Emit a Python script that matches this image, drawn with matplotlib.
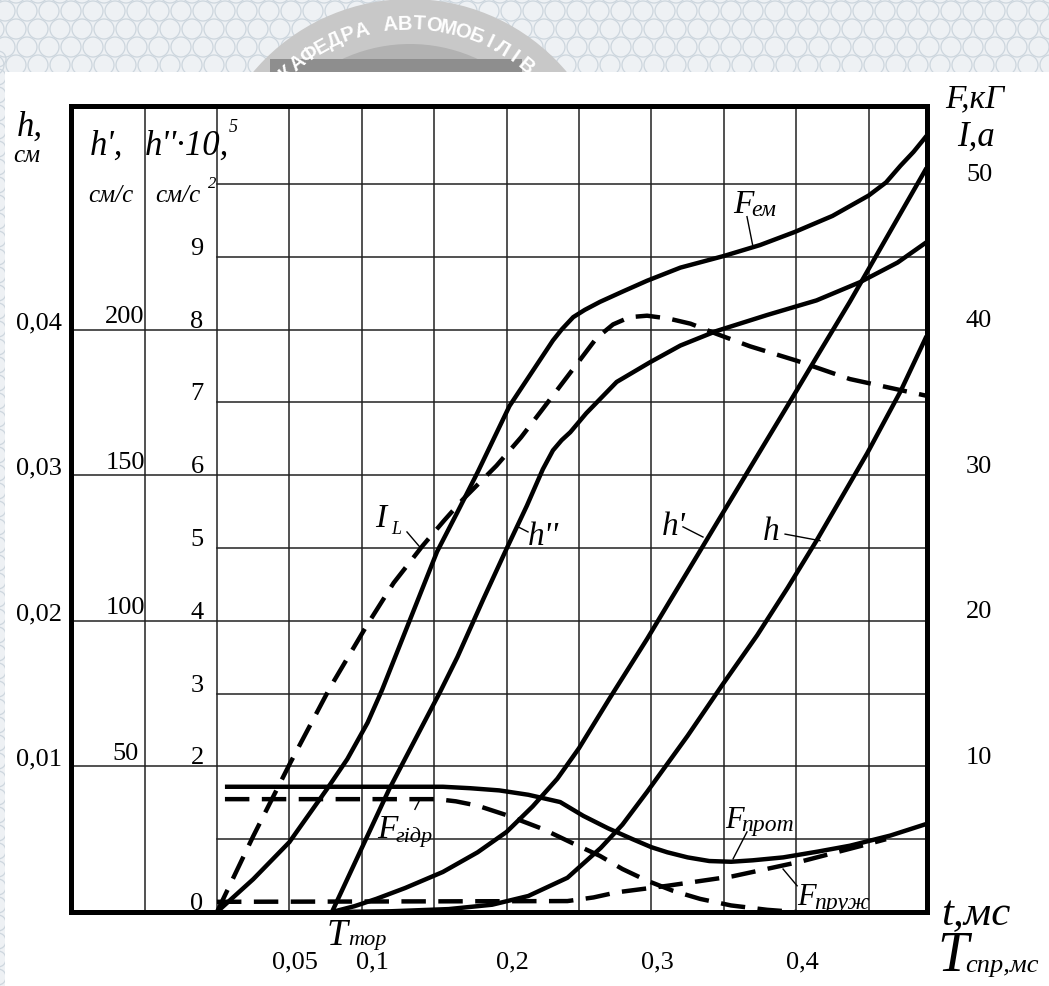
import numpy as np
import matplotlib
matplotlib.use("Agg")
import matplotlib.pyplot as plt
from matplotlib import transforms
from matplotlib.patches import Rectangle, Circle

W, H, DPI = 1049, 987, 100

# ---------------- data ----------------
# time axis t, ms
t_Fem = [0.0, 0.025, 0.050, 0.076, 0.090, 0.104, 0.114, 0.124, 0.138, 0.152, 0.166, 0.180,
         0.202, 0.225, 0.232, 0.238, 0.246, 0.254, 0.2645, 0.280, 0.297, 0.320, 0.350,
         0.375, 0.399, 0.425, 0.450, 0.462, 0.472, 0.481, 0.490]
F_em = [0.0, 2.25, 4.8, 8.45, 10.5, 13.0, 15.25, 17.75, 21.25, 24.75, 27.45, 30.2,
        34.75, 38.2, 39.25, 40.0, 40.85, 41.35, 41.9, 42.6, 43.35, 44.25, 45.05,
        45.8, 46.7, 47.8, 49.2, 50.1, 51.25, 52.2, 53.3]                         # kG

t_IL = [0.0, 0.025, 0.0504, 0.078, 0.1036, 0.122, 0.142, 0.157, 0.170, 0.193, 0.210,
        0.225, 0.246, 0.262, 0.2735, 0.285, 0.297, 0.312, 0.327, 0.345, 0.368, 0.4006,
        0.437, 0.490]
I_L = [0.0, 5.2, 10.2, 15.4, 19.7, 22.6, 25.15, 26.9, 28.35, 30.65, 32.6,
       34.55, 37.3, 39.4, 40.35, 40.85, 40.95, 40.75, 40.4, 39.7, 38.85, 37.85,
       36.6, 35.45]                                                              # A

t_h2 = [0.0794, 0.119, 0.154, 0.166, 0.184, 0.200, 0.214, 0.225, 0.232, 0.238, 0.244,
        0.255, 0.276, 0.299, 0.320, 0.345, 0.380, 0.414, 0.444, 0.470, 0.490]
h2 = [0.0, 1.69, 3.02, 3.50, 4.30, 4.99, 5.58, 6.08, 6.34, 6.48, 6.59,
      6.85, 7.28, 7.55, 7.78, 7.98, 8.20, 8.40, 8.65, 8.92, 9.20]               # 1e5 cm/s^2

t_h1 = [0.0794, 0.095, 0.110, 0.130, 0.156, 0.180, 0.200, 0.218, 0.235, 0.250, 0.271,
        0.297, 0.313, 0.3336, 0.349, 0.396, 0.414, 0.437, 0.490]
h1 = [0.0, 2.0, 4.5, 8.25, 13.75, 20.5, 27.5, 36.25, 45.75, 56.25, 73.25,
      93.75, 107.0, 124.0, 136.75, 175.5, 190.5, 209.5, 255.5]                  # cm/s

t_h0 = [0.0794, 0.120, 0.160, 0.190, 0.215, 0.242, 0.265, 0.280, 0.297, 0.325, 0.349,
        0.373, 0.394, 0.414, 0.449, 0.472, 0.490]
h0 = [0.0, 0.00005, 0.0002, 0.0005, 0.0011, 0.00235, 0.0044, 0.006, 0.00825, 0.0121,
      0.0156, 0.019, 0.02225, 0.0255, 0.0315, 0.03575, 0.03955]                 # cm

t_Fprot = [0.0055, 0.156, 0.175, 0.195, 0.215, 0.237, 0.253, 0.270, 0.287, 0.300, 0.311,
           0.325, 0.340, 0.355, 0.370, 0.391, 0.415, 0.437, 0.465, 0.490]
F_prot = [8.6, 8.6, 8.5, 8.35, 8.05, 7.55, 6.6, 5.75, 5.0, 4.45, 4.1,
          3.75, 3.5, 3.45, 3.55, 3.75, 4.15, 4.55, 5.25, 6.05]                  # kG

t_Fgidr = [0.0055, 0.152, 0.165, 0.180, 0.200, 0.225, 0.245, 0.2645, 0.280, 0.297, 0.315,
           0.3336, 0.355, 0.380, 0.400]
F_gidr = [7.75, 7.75, 7.6, 7.3, 6.65, 5.7, 4.75, 3.85, 2.95, 2.15, 1.45,
          0.9, 0.45, 0.15, 0.0]                                                 # kG

t_Fpruzh = [0.0, 0.242, 0.260, 0.276, 0.311, 0.356, 0.4026, 0.449, 0.462]
F_pruzh = [0.7, 0.75, 1.0, 1.35, 1.8, 2.45, 3.45, 4.65, 5.0]                    # kG

# scales (value of one grid row on each scale)
step_h2 = 1.0       # 1e5 cm/s^2
step_h1 = 25.0      # cm/s
step_h0 = 0.005     # cm
step_F = 5.0        # kG / A

h0_ticks = ["0,01", "0,02", "0,03", "0,04"]
h1_ticks = ["50", "100", "150", "200"]
h2_ticks = ["0", "2", "3", "4", "5", "6", "7", "8", "9"]
F_ticks = ["10", "20", "30", "40", "50"]
t_ticks = [0.05, 0.1, 0.2, 0.3, 0.4]
t_tick_labels = ["0,05", "0,1", "0,2", "0,3", "0,4"]

# ---------------- figure ----------------
plt.rcParams['font.family'] = ['Liberation Serif', 'DejaVu Serif']
fig = plt.figure(figsize=(W / DPI, H / DPI), dpi=DPI)
fig.patch.set_facecolor('#eef1f4')


def fx(px):
    return px / W


def fy(py):
    return 1 - py / H


# decorative background pattern + logo
bg = fig.add_axes([0, 0, 1, 1], zorder=-5)
bg.set_xlim(0, W)
bg.set_ylim(H, 0)
bg.axis('off')
for j, yy in enumerate(np.arange(-6, 80, 18)):
    for xx in np.arange(-6, W + 20, 22):
        bg.add_patch(Circle((xx + (11 if j % 2 else 0), yy), 10, fill=False,
                            ec='#cdd6de', lw=0.9))
for yy in np.arange(60, H + 20, 18):
    bg.add_patch(Circle((-2, yy), 8, fill=False, ec='#cdd6de', lw=0.9))
cx, cy = 410, 205
bg.add_patch(Circle((cx, cy), 205, fc='#c8c8c8', ec='none'))
bg.add_patch(Circle((cx, cy), 160, fc='#b2b2b2', ec='none'))
bg.add_patch(Rectangle((270, 60), 252, 14, fc='#8e8e8e', ec='none'))
logo_txt = "КАФЕДРА АВТОМОБІЛІВ ТА ТРАКТОРІВ"
for i, ch in enumerate(logo_txt):
    a = np.deg2rad(133.0 - i * 4.6)
    x = cx + 181 * np.cos(a)
    y = cy - 181 * np.sin(a)
    bg.text(x, y, ch, rotation=np.rad2deg(a) - 90, ha='center', va='center',
            fontsize=14.5, color='white', fontweight='bold', family='Liberation Sans')
bg.add_patch(Rectangle((5, 73), W, H, fc='white', ec='none'))

ax = fig.add_axes([fx(71), 1 - 913 / H, (927 - 71) / W, (913 - 107) / H])
ax.set_xlim(-0.1008, 0.4903)
ax.set_ylim(0, 11.07)
ax.set_xticks([])
ax.set_yticks([])
for s in ax.spines.values():
    s.set_linewidth(3.6)
    s.set_color('black')

grid_kw = dict(color='#222222', lw=1.1, zorder=1)
for k in range(-1, 10):
    ax.axvline(k * 0.05, **grid_kw)
for k in range(1, 11):
    if k % 2 == 0 and k <= 8:
        ax.axhline(k, **grid_kw)
    else:
        ax.plot([0, 0.4903], [k, k], **grid_kw)

lw = 3.2
dash = (0, (5.5, 2.8))
sk = dict(color='black', lw=lw, solid_joinstyle='round', solid_capstyle='butt', zorder=3)
dk = dict(color='black', lw=lw, ls=dash, dash_capstyle='butt', zorder=3)
ax.plot(t_Fem, np.array(F_em) / step_F, **sk)
ax.plot(t_IL, np.array(I_L) / step_F, **dk)
ax.plot(t_h2, np.array(h2) / step_h2, **sk)
ax.plot(t_h1, np.array(h1) / step_h1, **sk)
ax.plot(t_h0, np.array(h0) / step_h0, **sk)
ax.plot(t_Fprot, np.array(F_prot) / step_F, **sk)
ax.plot(t_Fgidr, np.array(F_gidr) / step_F, **dk)
ax.plot(t_Fpruzh, np.array(F_pruzh) / step_F, **dk)

# ---------------- scale labels ----------------
tr_fy = transforms.blended_transform_factory(fig.transFigure, ax.transData)
tr_xf = transforms.blended_transform_factory(ax.transData, fig.transFigure)
tick_fs = 19
for i, lab in enumerate(h0_ticks):
    ax.text(fx(39), (i + 1) * 0.01 / step_h0 + 0.02, lab, transform=tr_fy, ha='center',
            va='baseline', fontsize=tick_fs, clip_on=False)
for i, lab in enumerate(h1_ticks):
    ax.text(fx(125), (i + 1) * 50 / step_h1 + 0.1, lab, transform=tr_fy, ha='center',
            va='baseline', fontsize=tick_fs, clip_on=False)
for lab in h2_ticks:
    ax.text(fx(197), float(lab) / step_h2 + 0.04, lab, transform=tr_fy, ha='center',
            va='baseline', fontsize=tick_fs, clip_on=False)
for i, lab in enumerate(F_ticks):
    ax.text(fx(979), (i + 1) * 10 / step_F + 0.05, lab, transform=tr_fy, ha='center',
            va='baseline', fontsize=tick_fs, clip_on=False)
for tv, lab in zip(t_ticks, t_tick_labels):
    shift = 0.0075 if lab == "0,1" else 0.004
    ax.text(tv + shift, fy(968), lab, transform=tr_xf, ha='center', va='baseline',
            fontsize=tick_fs, clip_on=False)


def ptext(px, py, s, size, **kw):
    fig.text(fx(px), fy(py), s, fontsize=size, style='italic', va='baseline', **kw)


ptext(17, 136, "h,", 25)
ptext(13, 162, "см", 18)
ptext(90, 155, "h',", 25)
ptext(145, 155, "h''·10,", 25)
ptext(229, 132, "5", 13)
ptext(88, 202, "см/с", 18)
ptext(155, 202, "см/с", 18)
ptext(208, 188, "2", 12)
ptext(945, 107, "F,кГ", 24)
ptext(957, 146, "I,а", 25)
ptext(941, 925, "t,мс", 31)
ptext(937, 971, "T", 40)
ptext(965, 972, "спр,мс", 19)

# ---------------- curve labels ----------------
lab_fs = 24
sub_fs = 16


def clabel(t, y, main, sub=None, sub_dx=0.0, sub_dy=-0.05, size=lab_fs, ssize=sub_fs):
    ax.text(t, y, main, fontsize=size, style='italic', va='baseline', ha='left', zorder=5,
            clip_on=False)
    if sub:
        ax.text(t + sub_dx, y + sub_dy, sub, fontsize=ssize, style='italic', va='baseline',
                ha='left', zorder=5, clip_on=False)


def leader(t0, y0, t1, y1):
    ax.plot([t0, t1], [y0, y1], color='black', lw=1.0, zorder=4, clip_on=False)


clabel(0.109, 5.30, "I", "L", sub_dx=0.0115, sub_dy=-0.10, ssize=13)
leader(0.1312, 5.22, 0.1402, 5.01)
clabel(0.2148, 5.05, "h''")
leader(0.2079, 5.29, 0.2148, 5.22)
clabel(0.3073, 5.19, "h'")
leader(0.3218, 5.29, 0.3356, 5.15)
clabel(0.3771, 5.12, "h")
leader(0.3923, 5.19, 0.4164, 5.10)
clabel(0.3564, 9.62, "F", "ем", sub_dx=0.0125, ssize=17)
leader(0.366, 9.55, 0.370, 9.15)
clabel(0.1105, 1.03, "F", "гідр", sub_dx=0.0125)
leader(0.1367, 1.41, 0.1395, 1.52)
clabel(0.3508, 1.17, "F", "прот", sub_dx=0.0115, size=22, ssize=17)
leader(0.366, 1.10, 0.3564, 0.73)
clabel(0.4006, 0.11, "F", "пруж", sub_dx=0.0115, size=22, ssize=17)
leader(0.3909, 0.59, 0.4006, 0.36)
clabel(0.076, -0.44, "T", "тор", sub_dx=0.0145, sub_dy=-0.0, size=27, ssize=16)

fig.savefig("out.png", dpi=DPI, facecolor=fig.get_facecolor())
